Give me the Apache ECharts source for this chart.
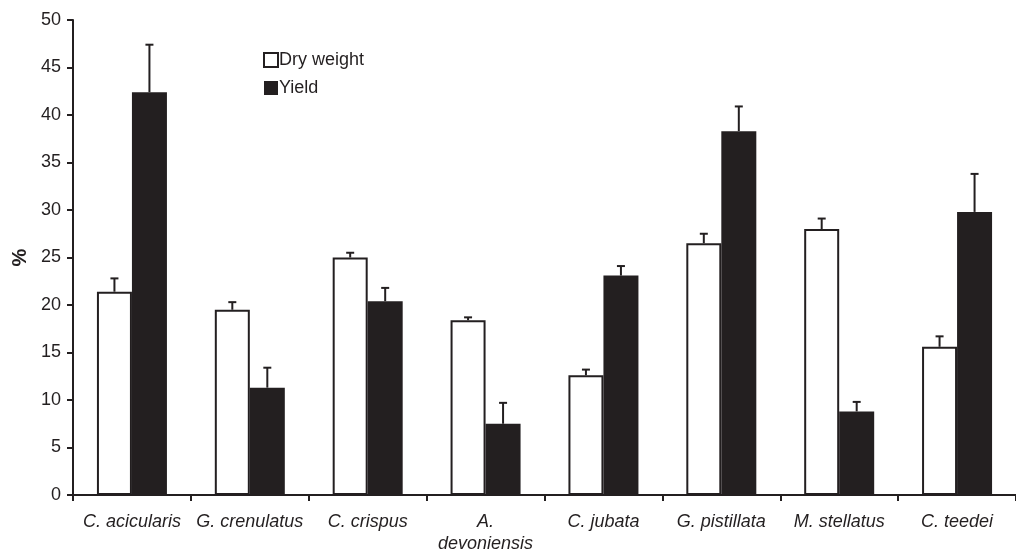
<!DOCTYPE html>
<html><head><meta charset="utf-8">
<script src="https://cdn.jsdelivr.net/npm/echarts@6/dist/echarts.min.js"></script>
<style>html,body{margin:0;padding:0;background:#fff}#c{width:1016px;height:552px}</style>
</head><body><div id="c"></div>
<script>
const categories = ['C. acicularis','G. crenulatus','C. crispus','A.\ndevoniensis','C. jubata','G. pistillata','M. stellatus','C. teedei'];
const dryWeight = [21.4, 19.5, 25.0, 18.4, 12.6, 26.5, 28.0, 15.6];
const dryWeightErr = [1.4, 0.8, 0.5, 0.3, 0.6, 1.0, 1.1, 1.1];
const yieldVals = [42.4, 11.3, 20.4, 7.5, 23.1, 38.3, 8.8, 29.8];
const yieldErr = [5.0, 2.1, 1.4, 2.2, 1.0, 2.6, 1.0, 4.0];
const yTicks = [0,5,10,15,20,25,30,35,40,45,50];

const BAR_W = 35;
const dark = '#231f20';
const FONT = 'Liberation Sans, Arial, sans-serif';

function errSeries(name, vals, errs, side) {
  return {
    type: 'custom', name: name + ' err', silent: true, z: 5,
    data: vals.map((v, i) => [i, v, v + errs[i]]),
    renderItem: function (params, api) {
      const base = api.coord([api.value(0), api.value(1)]);
      const top = api.coord([api.value(0), api.value(2)]);
      const x = base[0] + side * BAR_W / 2;
      const st = { stroke: dark, lineWidth: 2 };
      return { type: 'group', children: [
        { type: 'line', shape: { x1: x, y1: base[1], x2: x, y2: top[1] }, style: st },
        { type: 'line', shape: { x1: x - 4, y1: top[1], x2: x + 4, y2: top[1] }, style: st }
      ]};
    }
  };
}

const chart = echarts.init(document.getElementById('c'));
chart.setOption({
  animation: false,
  grid: { left: 73, right: 0, top: 20, bottom: 57, containLabel: false, outerBoundsMode: 'none' },
  legend: {
    orient: 'vertical', left: 258, top: 46, itemWidth: 14, itemHeight: 14, itemGap: 10,
    icon: 'rect',
    textStyle: { fontFamily: FONT, fontSize: 18, color: '#231f20', padding: [0,0,0,-4] },
    data: ['Dry weight', 'Yield']
  },
  xAxis: {
    type: 'category', data: categories,
    axisLine: { lineStyle: { color: dark, width: 2 } },
    axisTick: { show: true, length: 6, lineStyle: { color: dark, width: 2 } },
    axisLabel: { fontFamily: FONT, fontStyle: 'italic', fontSize: 18, color: '#231f20', margin: 16, lineHeight: 22, interval: 0 }
  },
  yAxis: {
    type: 'value', min: 0, max: 50, interval: 5,
    name: '%', nameLocation: 'middle', nameGap: 43, nameRotate: 90,
    nameTextStyle: { fontFamily: FONT, fontWeight: 'bold', fontSize: 20, color: '#231f20' },
    splitLine: { show: false },
    axisLine: { show: true, lineStyle: { color: dark, width: 2 } },
    axisTick: { show: true, length: 6, lineStyle: { color: dark, width: 2 } },
    axisLabel: { fontFamily: FONT, fontSize: 18, color: '#231f20', margin: 12,
      formatter: v => yTicks.includes(v) ? String(v) : '' }
  },
  series: [
    { type: 'bar', name: 'Dry weight', data: dryWeight, barWidth: BAR_W, barGap: '0%',
      itemStyle: { color: '#ffffff', borderColor: dark, borderWidth: 2 } },
    { type: 'bar', name: 'Yield', data: yieldVals, barWidth: BAR_W, barGap: '0%',
      itemStyle: { color: dark, borderColor: dark, borderWidth: 0 } },
    errSeries('Dry weight', dryWeight, dryWeightErr, -1),
    errSeries('Yield', yieldVals, yieldErr, 1)
  ]
});
</script></body></html>
